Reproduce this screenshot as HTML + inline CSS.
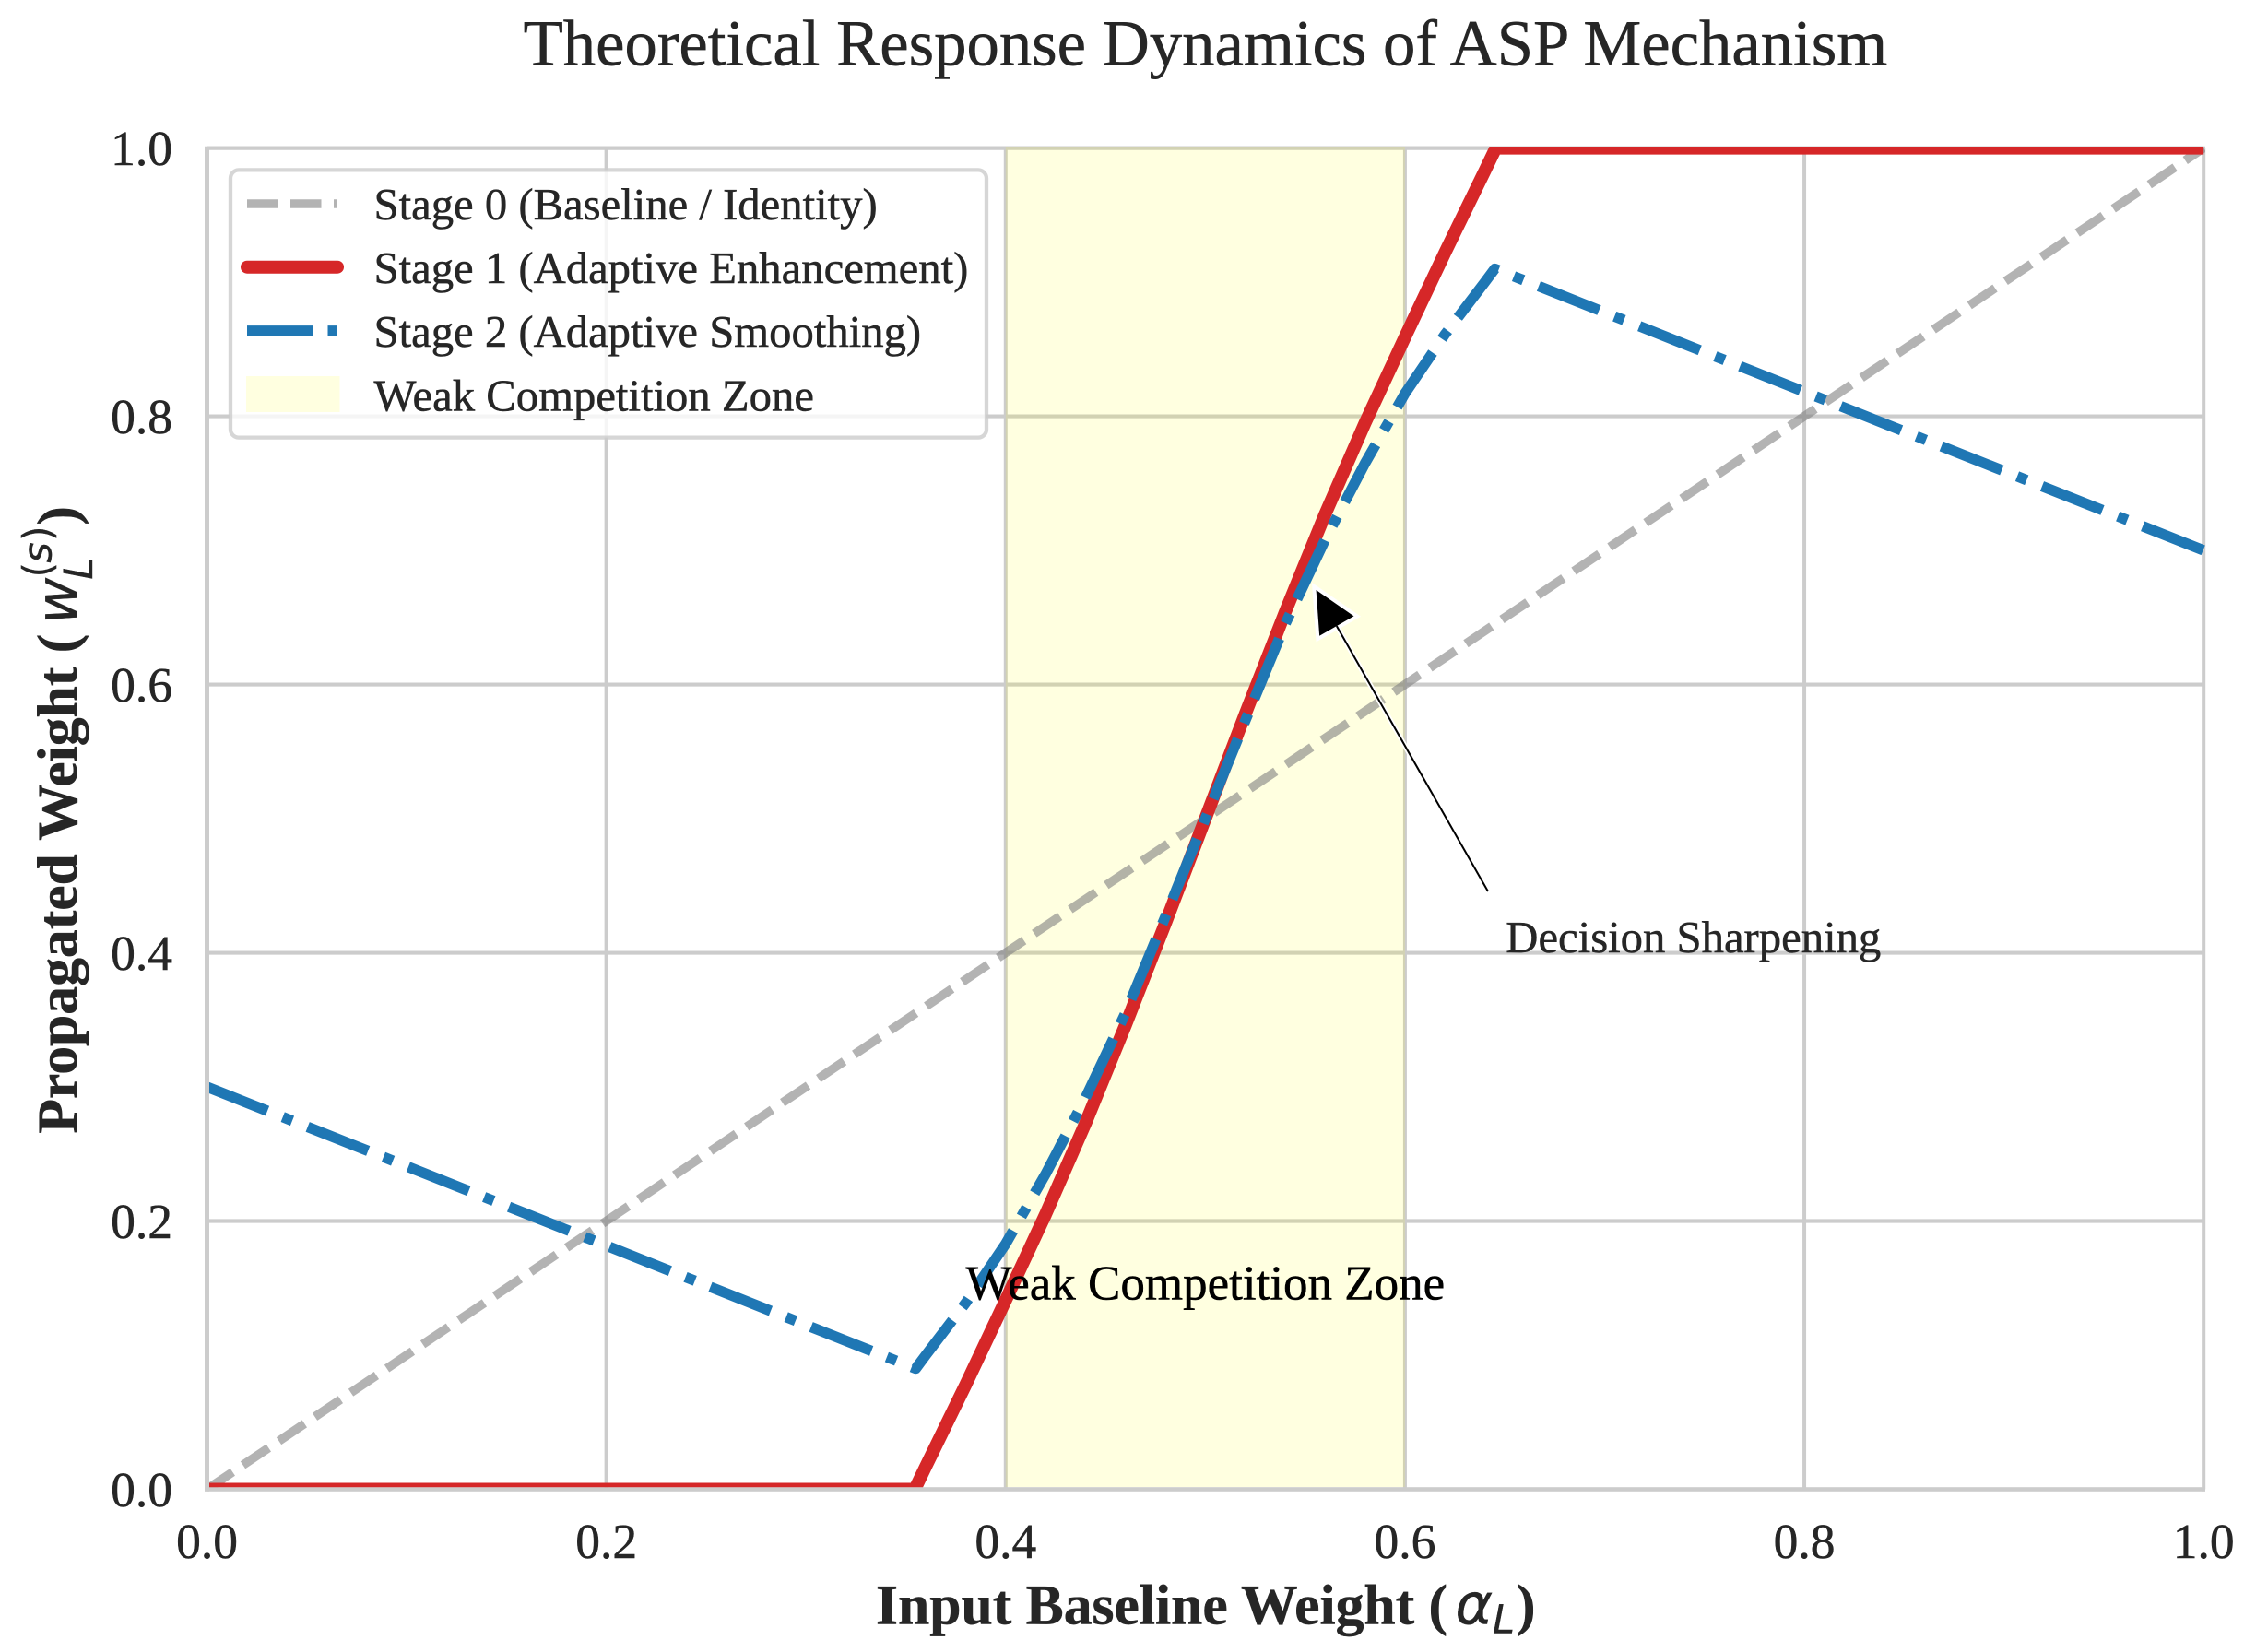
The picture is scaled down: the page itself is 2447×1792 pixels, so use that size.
<!DOCTYPE html>
<html lang="en">
<head>
<meta charset="utf-8">
<title>Theoretical Response Dynamics of ASP Mechanism</title>
<style>
html,body{margin:0;padding:0;background:#fff;width:2447px;height:1792px;overflow:hidden}
svg{display:block;text-rendering:geometricPrecision}
text{font-family:"Liberation Serif","Times New Roman",serif;fill:#262626;stroke:#262626;stroke-width:0.5}
.math{font-family:"DejaVu Sans",sans-serif;font-style:italic;font-weight:400;stroke-width:0.4}
.mathup{font-family:"DejaVu Sans",sans-serif;font-weight:400;stroke-width:0.2}
</style>
</head>
<body>
<svg id="chart" xmlns="http://www.w3.org/2000/svg" width="2447" height="1792" viewBox="0 0 2447 1792">
  <defs>
    <clipPath id="plot-clip"><rect x="227" y="159" width="2165" height="1454.3"/></clipPath>
  </defs>
  <rect x="0" y="0" width="2447" height="1792" fill="#ffffff"/>
  <g id="grid"></g>
  <line x1="222" x2="2392" y1="160.6" y2="160.6" stroke="#cccccc" stroke-width="3.6"/>
  <g id="span"></g>
  <line x1="224.5" x2="224.5" y1="159" y2="1617.7" stroke="#cccccc" stroke-width="5"/>
  <line x1="2390.2" x2="2390.2" y1="159" y2="1617.7" stroke="#cccccc" stroke-width="3.6"/>
  <line x1="222" x2="2392" y1="1615.5" y2="1615.5" stroke="#cccccc" stroke-width="4.4"/>
  <g id="series" clip-path="url(#plot-clip)"></g>
  <g id="ticks"></g>

  <text x="1307.4" y="70.7" font-size="70.7" text-anchor="middle">Theoretical Response Dynamics of ASP Mechanism</text>

  <g>
    <text x="950" y="1761.7" font-size="61.6" font-weight="700">Input Baseline Weight (</text>
    <text class="math" x="1578.5" y="1761.7" font-size="61.6">α</text>
    <text class="math" x="1619" y="1771.7" font-size="43">L</text>
    <text x="1645" y="1761.7" font-size="61.6" font-weight="700">)</text>
  </g>

  <g transform="translate(83 1229.6) rotate(-90)">
    <text x="0" y="0" font-size="61.6" font-weight="700">Propagated Weight (</text>
    <text class="math" x="552.5" y="0" font-size="61.6">w</text>
    <text class="math" x="601" y="17" font-size="43">L</text>
    <text class="mathup" x="603" y="-27.5" font-size="43">(</text>
    <text class="math" x="619" y="-27.5" font-size="43">s</text>
    <text class="mathup" x="642.5" y="-27.5" font-size="43">)</text>
    <text x="660" y="0" font-size="61.6" font-weight="700">)</text>
  </g>

  <g id="annotations"></g>

  <g>
    <rect x="250" y="184.4" width="820" height="290.2" rx="9" ry="9" fill="#ffffff" fill-opacity="0.8" stroke="#cccccc" stroke-opacity="0.8" stroke-width="4.3"/>
    <g>
      <line x1="268" x2="366" y1="221" y2="221" stroke="#808080" stroke-opacity="0.6" stroke-width="9.6" stroke-dasharray="33.5 13.5"/>
      <text x="405.5" y="238" font-size="48.7">Stage 0 (Baseline / Identity)</text>
    </g>
    <g>
      <line x1="268" x2="366" y1="289.7" y2="289.7" stroke="#d62728" stroke-width="14" stroke-linecap="round"/>
      <text x="405.5" y="307" font-size="48.7">Stage 1 (Adaptive Enhancement)</text>
    </g>
    <g>
      <line x1="268" x2="366" y1="359" y2="359" stroke="#1f77b4" stroke-width="11.7" stroke-dasharray="72 15.5 12 15.5"/>
      <text x="405.5" y="376" font-size="48.7">Stage 2 (Adaptive Smoothing)</text>
    </g>
    <g>
      <rect x="267" y="408" width="101.5" height="39" fill="#ffff00" fill-opacity="0.12"/>
      <text x="405.5" y="445.5" font-size="48.7">Weak Competition Zone</text>
    </g>
  </g>
</svg>
<script>
// ---- chart data ----
const xTicks = [0.0, 0.2, 0.4, 0.6, 0.8, 1.0];
const yTicks = [0.0, 0.2, 0.4, 0.6, 0.8, 1.0];
const xTickLabels = ["0.0", "0.2", "0.4", "0.6", "0.8", "1.0"];
const yTickLabels = ["0.0", "0.2", "0.4", "0.6", "0.8", "1.0"];
const stage0X = [0, 1];
const stage0Y = [0, 1];
const stage1X = [0, 0.3545, 0.36, 0.38, 0.40, 0.42, 0.44, 0.46, 0.48, 0.50, 0.52, 0.54, 0.56, 0.58, 0.60, 0.62, 0.64, 0.6455, 1];
const stage1Y = [0, 0, 0.017, 0.078, 0.141, 0.205, 0.273, 0.346, 0.422, 0.50, 0.578, 0.654, 0.727, 0.795, 0.859, 0.922, 0.983, 1, 1];
const stage2X = [0, 0.355, 0.36, 0.38, 0.40, 0.42, 0.44, 0.46, 0.48, 0.50, 0.52, 0.54, 0.56, 0.58, 0.60, 0.62, 0.64, 0.645, 1];
const stage2Y = [0.30, 0.09, 0.10, 0.139, 0.183, 0.235, 0.292, 0.355, 0.427, 0.50, 0.573, 0.645, 0.708, 0.765, 0.817, 0.861, 0.90, 0.91, 0.70];
const zoneRange = [0.4, 0.6];
const arrowTip = [0.5555, 0.6705];
const arrowTail = [0.6416, 0.4457];
const decisionLabelAt = [0.6505, 0.4005];
const zoneLabelAt = [0.5, 0.1415];

// ---- axis functions ----
const X0 = 224.5, X1 = 2390.2, Y0 = 1615.5, Y1 = 160.6;
const sx = v => X0 + (X1 - X0) * v;
const sy = v => Y0 + (Y1 - Y0) * v;
const NS = 'http://www.w3.org/2000/svg';
function mk(tag, parent, attrs) {
  const el = document.createElementNS(NS, tag);
  for (const k in attrs) el.setAttribute(k, attrs[k]);
  parent.appendChild(el);
  return el;
}
function pathOf(xs, ys) {
  return xs.map((x, i) => (i ? 'L' : 'M') + sx(x).toFixed(2) + ' ' + sy(ys[i]).toFixed(2)).join(' ');
}

// grid
const grid = document.getElementById('grid');
xTicks.forEach(t => {
  const l = mk('line', grid, {x1: sx(t), x2: sx(t), y1: Y1, y2: Y0, stroke: '#cccccc', 'stroke-width': 4});
  
  
});
yTicks.forEach(t => {
  const l = mk('line', grid, {x1: X0, x2: X1, y1: sy(t), y2: sy(t), stroke: '#cccccc', 'stroke-width': 4.2});
  
  
});

// span
const spanRect = mk('rect', document.getElementById('span'), {
  x: sx(zoneRange[0]), y: 159, width: sx(zoneRange[1]) - sx(zoneRange[0]), height: 1613 - 159,
  fill: '#ffff00', 'fill-opacity': 0.12
});



// series
const series = document.getElementById('series');
const s0 = mk('path', series, {d: pathOf(stage0X, stage0Y), fill: 'none', stroke: '#808080', 'stroke-opacity': 0.6, 'stroke-width': 9.6, 'stroke-dasharray': '33.5 13.5'});


const s1 = mk('path', series, {d: pathOf(stage1X, stage1Y), fill: 'none', stroke: '#d62728', 'stroke-width': 14, 'stroke-linejoin': 'round'});


const s2 = mk('path', series, {d: pathOf(stage2X, stage2Y), fill: 'none', stroke: '#1f77b4', 'stroke-width': 11.4, 'stroke-linejoin': 'round', 'stroke-dasharray': '70.5 18 11 18'});



// tick labels
const ticks = document.getElementById('ticks');
xTicks.forEach((t, i) => {
  const el = mk('text', ticks, {x: sx(t), y: 1690, 'font-size': 53.5, 'text-anchor': 'middle'});
  el.textContent = xTickLabels[i];
  
  
});
yTicks.forEach((t, i) => {
  const el = mk('text', ticks, {x: 187, y: sy(t) + 18.4, 'font-size': 53.5, 'text-anchor': 'end'});
  el.textContent = yTickLabels[i];
  
  
});

// annotations
const ann = document.getElementById('annotations');
const tx = sx(arrowTip[0]), ty = sy(arrowTip[1]);
const ax = sx(arrowTail[0]), ay = sy(arrowTail[1]);
const len = Math.hypot(ax - tx, ay - ty);
const ux = (ax - tx) / len, uy = (ay - ty) / len;
const bx = tx + ux * 45, by = ty + uy * 45;
const headPts = [[tx, ty], [bx - uy * 21.5, by + ux * 21.5], [bx + uy * 21.5, by - ux * 21.5]].map(p => p.join(',')).join(' ');
const halo = mk('line', ann, {x1: bx, y1: by, x2: ax, y2: ay, stroke: '#ffffff', 'stroke-width': 5.5});


const headHalo = mk('polygon', ann, {points: headPts, fill: '#ffffff', stroke: '#ffffff', 'stroke-width': 8, 'stroke-linejoin': 'miter'});


const stem = mk('line', ann, {x1: bx, y1: by, x2: ax, y2: ay, stroke: '#000000', 'stroke-width': 2});


const head = mk('polygon', ann, {points: headPts, fill: '#000000'});


const decision = mk('text', ann, {x: sx(decisionLabelAt[0]), y: sy(decisionLabelAt[1]), 'font-size': 48.7});
decision.textContent = 'Decision Sharpening';


const zoneText = mk('text', ann, {x: sx(zoneLabelAt[0]), y: sy(zoneLabelAt[1]), 'font-size': 53, 'text-anchor': 'middle'});
zoneText.style.fill = '#000000';
zoneText.style.stroke = '#000000';
zoneText.textContent = 'Weak Competition Zone';


</script>
</body>
</html>
